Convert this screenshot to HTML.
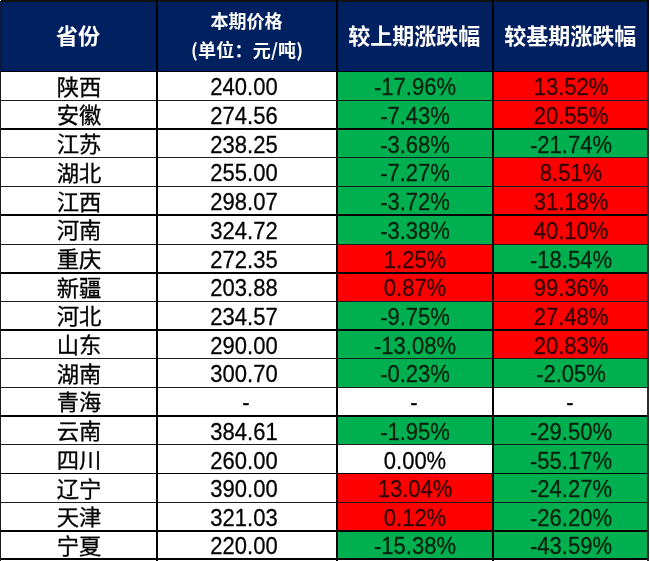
<!DOCTYPE html><html lang="zh-CN"><head><meta charset="utf-8"><title>价格表</title><style>
html,body{margin:0;padding:0;background:#fff;}
body{width:650px;height:561px;overflow:hidden;position:relative;font-family:"Noto Sans CJK SC","Liberation Sans",sans-serif;color:#000;}
.a{position:absolute;}
.hd{background:#002060;}
.g{background:#00b050;}
.r{background:#ff0000;}
.ln{background:#000;}
.t{position:absolute;text-align:center;white-space:nowrap;font-size:22px;line-height:28px;height:28px;transform:scaleY(1.065) rotate(0.02deg);font-family:"Liberation Sans","Noto Sans CJK SC",sans-serif;-webkit-text-stroke:0.25px currentColor;}
.tg{color:#04200c;}
.tr{color:#300000;}
.c{font-family:"Noto Sans CJK SC","Liberation Sans",sans-serif;-webkit-text-stroke:0.3px currentColor;}
.h{position:absolute;text-align:center;white-space:nowrap;color:#fff;font-weight:bold;font-family:"Noto Sans CJK SC","Liberation Sans",sans-serif;}
</style></head><body>
<div class="a hd" style="left:0;top:0;width:649px;height:72px"></div>
<div class="a g" style="left:337px;top:71.40px;width:155.60px;height:29.00px"></div>
<div class="a r" style="left:492.6px;top:71.40px;width:155.20px;height:29.00px"></div>
<div class="a g" style="left:337px;top:100.40px;width:155.60px;height:28.65px"></div>
<div class="a r" style="left:492.6px;top:100.40px;width:155.20px;height:28.65px"></div>
<div class="a g" style="left:337px;top:129.05px;width:155.60px;height:28.55px"></div>
<div class="a g" style="left:492.6px;top:129.05px;width:155.20px;height:28.55px"></div>
<div class="a g" style="left:337px;top:157.60px;width:155.60px;height:28.85px"></div>
<div class="a r" style="left:492.6px;top:157.60px;width:155.20px;height:28.85px"></div>
<div class="a g" style="left:337px;top:186.45px;width:155.60px;height:28.75px"></div>
<div class="a r" style="left:492.6px;top:186.45px;width:155.20px;height:28.75px"></div>
<div class="a g" style="left:337px;top:215.20px;width:155.60px;height:28.85px"></div>
<div class="a r" style="left:492.6px;top:215.20px;width:155.20px;height:28.85px"></div>
<div class="a r" style="left:337px;top:244.05px;width:155.60px;height:28.65px"></div>
<div class="a g" style="left:492.6px;top:244.05px;width:155.20px;height:28.65px"></div>
<div class="a r" style="left:337px;top:272.70px;width:155.60px;height:28.70px"></div>
<div class="a r" style="left:492.6px;top:272.70px;width:155.20px;height:28.70px"></div>
<div class="a g" style="left:337px;top:301.40px;width:155.60px;height:28.55px"></div>
<div class="a r" style="left:492.6px;top:301.40px;width:155.20px;height:28.55px"></div>
<div class="a g" style="left:337px;top:329.95px;width:155.60px;height:28.60px"></div>
<div class="a r" style="left:492.6px;top:329.95px;width:155.20px;height:28.60px"></div>
<div class="a g" style="left:337px;top:358.55px;width:155.60px;height:28.90px"></div>
<div class="a g" style="left:492.6px;top:358.55px;width:155.20px;height:28.90px"></div>
<div class="a g" style="left:337px;top:416.00px;width:155.60px;height:28.75px"></div>
<div class="a g" style="left:492.6px;top:416.00px;width:155.20px;height:28.75px"></div>
<div class="a g" style="left:492.6px;top:444.75px;width:155.20px;height:28.85px"></div>
<div class="a r" style="left:337px;top:473.60px;width:155.60px;height:28.70px"></div>
<div class="a g" style="left:492.6px;top:473.60px;width:155.20px;height:28.70px"></div>
<div class="a r" style="left:337px;top:502.30px;width:155.60px;height:28.60px"></div>
<div class="a g" style="left:492.6px;top:502.30px;width:155.20px;height:28.60px"></div>
<div class="a g" style="left:337px;top:530.90px;width:155.60px;height:28.15px"></div>
<div class="a g" style="left:492.6px;top:530.90px;width:155.20px;height:28.15px"></div>
<div class="a ln" style="left:1px;top:0;width:648px;height:1.6px;background:#111"></div>
<div class="a ln" style="left:0;top:70.5px;width:649px;height:1.8px"></div>
<div class="a ln" style="left:0;top:99.85px;width:649px;height:1.1px;background:#1c1c1c"></div>
<div class="a ln" style="left:0;top:128.30px;width:649px;height:1.5px;background:#000"></div>
<div class="a ln" style="left:0;top:157.10px;width:649px;height:1.0px;background:#1c1c1c"></div>
<div class="a ln" style="left:0;top:185.82px;width:649px;height:1.25px;background:#1c1c1c"></div>
<div class="a ln" style="left:0;top:214.45px;width:649px;height:1.5px;background:#000"></div>
<div class="a ln" style="left:0;top:243.55px;width:649px;height:1.0px;background:#1c1c1c"></div>
<div class="a ln" style="left:0;top:271.70px;width:649px;height:2.0px;background:#000"></div>
<div class="a ln" style="left:0;top:300.90px;width:649px;height:1.0px;background:#1c1c1c"></div>
<div class="a ln" style="left:0;top:329.15px;width:649px;height:1.6px;background:#000"></div>
<div class="a ln" style="left:0;top:358.05px;width:649px;height:1.0px;background:#1c1c1c"></div>
<div class="a ln" style="left:0;top:386.90px;width:649px;height:1.1px;background:#1c1c1c"></div>
<div class="a ln" style="left:0;top:415.25px;width:649px;height:1.5px;background:#000"></div>
<div class="a ln" style="left:0;top:444.25px;width:649px;height:1.0px;background:#1c1c1c"></div>
<div class="a ln" style="left:0;top:472.85px;width:649px;height:1.5px;background:#000"></div>
<div class="a ln" style="left:0;top:501.75px;width:649px;height:1.1px;background:#1c1c1c"></div>
<div class="a ln" style="left:0;top:529.95px;width:649px;height:1.9px;background:#000"></div>
<div class="a ln" style="left:0;top:558.10px;width:649px;height:1.9px;background:#000"></div>
<div class="a" style="left:0;top:560px;width:650px;height:1px;background:#fff"></div>
<div class="a ln" style="left:0;top:1px;width:1.5px;height:71px;background:#0a1a3c"></div>
<div class="a ln" style="left:0;top:72px;width:1.2px;height:489px;background:#1a1a1a"></div>
<div class="a ln" style="left:155.85px;top:0;width:2px;height:561px"></div>
<div class="a ln" style="left:336px;top:0;width:2px;height:561px"></div>
<div class="a ln" style="left:491.6px;top:0;width:2px;height:561px"></div>
<div class="a ln" style="left:647.1px;top:72px;width:1.5px;height:489px;background:#2e2e2e"></div>
<div class="a ln" style="left:647.4px;top:0;width:1.3px;height:72px;background:#030818"></div>
<div class="a" style="left:648.7px;top:0;width:1.3px;height:561px;background:#fff"></div>
<div class="a" style="left:0;top:0;width:1.2px;height:1.2px;background:#fff"></div>
<div class="h" style="left:-72.0px;width:300px;top:18.80px;font-size:22px;line-height:30px;height:30px">省份</div>
<div class="h" style="left:96.5px;width:300px;top:6.50px;font-size:18px;line-height:26px;height:26px">本期价格</div>
<div class="h" style="left:97.2px;width:300px;top:36.20px;font-size:18px;line-height:26px;height:26px;letter-spacing:0.2px">(单位：元/吨)</div>
<div class="h" style="left:264.2px;width:300px;top:18.90px;font-size:22px;line-height:30px;height:30px">较上期涨跌幅</div>
<div class="h" style="left:420.2px;width:300px;top:18.90px;font-size:22px;line-height:30px;height:30px">较基期涨跌幅</div>
<div class="t c" style="left:-70.6px;width:300px;top:70.60px;transform:scale(1.015,0.97) rotate(0.02deg)">陕西</div>
<div class="t" style="left:94.0px;width:300px;top:74.30px">240.00</div>
<div class="t tg" style="left:265.0px;width:300px;top:74.30px">-17.96%</div>
<div class="t tr" style="left:421.3px;width:300px;top:74.30px">13.52%</div>
<div class="t c" style="left:-70.6px;width:300px;top:99.43px;transform:scale(1.015,0.97) rotate(0.02deg)">安徽</div>
<div class="t" style="left:94.0px;width:300px;top:103.13px">274.56</div>
<div class="t tg" style="left:265.0px;width:300px;top:103.13px">-7.43%</div>
<div class="t tr" style="left:421.3px;width:300px;top:103.13px">20.55%</div>
<div class="t c" style="left:-70.6px;width:300px;top:128.02px;transform:scale(1.015,0.97) rotate(0.02deg)">江苏</div>
<div class="t" style="left:94.0px;width:300px;top:131.72px">238.25</div>
<div class="t tg" style="left:265.0px;width:300px;top:131.72px">-3.68%</div>
<div class="t tg" style="left:421.3px;width:300px;top:131.72px">-21.74%</div>
<div class="t c" style="left:-70.6px;width:300px;top:156.72px;transform:scale(1.015,0.97) rotate(0.02deg)">湖北</div>
<div class="t" style="left:94.0px;width:300px;top:160.42px">255.00</div>
<div class="t tg" style="left:265.0px;width:300px;top:160.42px">-7.27%</div>
<div class="t tr" style="left:421.3px;width:300px;top:160.42px">8.51%</div>
<div class="t c" style="left:-70.6px;width:300px;top:185.52px;transform:scale(1.015,0.97) rotate(0.02deg)">江西</div>
<div class="t" style="left:94.0px;width:300px;top:189.22px">298.07</div>
<div class="t tg" style="left:265.0px;width:300px;top:189.22px">-3.72%</div>
<div class="t tr" style="left:421.3px;width:300px;top:189.22px">31.18%</div>
<div class="t c" style="left:-70.6px;width:300px;top:214.32px;transform:scale(1.015,0.97) rotate(0.02deg)">河南</div>
<div class="t" style="left:94.0px;width:300px;top:218.03px">324.72</div>
<div class="t tg" style="left:265.0px;width:300px;top:218.03px">-3.38%</div>
<div class="t tr" style="left:421.3px;width:300px;top:218.03px">40.10%</div>
<div class="t c" style="left:-70.6px;width:300px;top:243.07px;transform:scale(1.015,0.97) rotate(0.02deg)">重庆</div>
<div class="t" style="left:94.0px;width:300px;top:246.78px">272.35</div>
<div class="t tr" style="left:265.0px;width:300px;top:246.78px">1.25%</div>
<div class="t tg" style="left:421.3px;width:300px;top:246.78px">-18.54%</div>
<div class="t c" style="left:-70.6px;width:300px;top:271.75px;transform:scale(1.015,0.97) rotate(0.02deg)">新疆</div>
<div class="t" style="left:94.0px;width:300px;top:275.45px">203.88</div>
<div class="t tr" style="left:265.0px;width:300px;top:275.45px">0.87%</div>
<div class="t tr" style="left:421.3px;width:300px;top:275.45px">99.36%</div>
<div class="t c" style="left:-70.6px;width:300px;top:300.37px;transform:scale(1.015,0.97) rotate(0.02deg)">河北</div>
<div class="t" style="left:94.0px;width:300px;top:304.07px">234.57</div>
<div class="t tg" style="left:265.0px;width:300px;top:304.07px">-9.75%</div>
<div class="t tr" style="left:421.3px;width:300px;top:304.07px">27.48%</div>
<div class="t c" style="left:-70.6px;width:300px;top:328.95px;transform:scale(1.015,0.97) rotate(0.02deg)">山东</div>
<div class="t" style="left:94.0px;width:300px;top:332.65px">290.00</div>
<div class="t tg" style="left:265.0px;width:300px;top:332.65px">-13.08%</div>
<div class="t tr" style="left:421.3px;width:300px;top:332.65px">20.83%</div>
<div class="t c" style="left:-70.6px;width:300px;top:357.70px;transform:scale(1.015,0.97) rotate(0.02deg)">湖南</div>
<div class="t" style="left:94.0px;width:300px;top:361.40px">300.70</div>
<div class="t tg" style="left:265.0px;width:300px;top:361.40px">-0.23%</div>
<div class="t tg" style="left:421.3px;width:300px;top:361.40px">-2.05%</div>
<div class="t c" style="left:-70.6px;width:300px;top:386.43px;transform:scale(1.015,0.97) rotate(0.02deg)">青海</div>
<div class="t" style="left:96.1px;width:300px;top:388.82px">-</div>
<div class="t" style="left:264.3px;width:300px;top:388.82px">-</div>
<div class="t" style="left:420.0px;width:300px;top:388.82px">-</div>
<div class="t c" style="left:-70.6px;width:300px;top:415.07px;transform:scale(1.015,0.97) rotate(0.02deg)">云南</div>
<div class="t" style="left:94.0px;width:300px;top:418.77px">384.61</div>
<div class="t tg" style="left:265.0px;width:300px;top:418.77px">-1.95%</div>
<div class="t tg" style="left:421.3px;width:300px;top:418.77px">-29.50%</div>
<div class="t c" style="left:-70.6px;width:300px;top:443.88px;transform:scale(1.015,0.97) rotate(0.02deg)">四川</div>
<div class="t" style="left:94.0px;width:300px;top:447.57px">260.00</div>
<div class="t" style="left:265.0px;width:300px;top:447.57px">0.00%</div>
<div class="t tg" style="left:421.3px;width:300px;top:447.57px">-55.17%</div>
<div class="t c" style="left:-70.6px;width:300px;top:472.65px;transform:scale(1.015,0.97) rotate(0.02deg)">辽宁</div>
<div class="t" style="left:94.0px;width:300px;top:476.35px">390.00</div>
<div class="t tr" style="left:265.0px;width:300px;top:476.35px">13.04%</div>
<div class="t tg" style="left:421.3px;width:300px;top:476.35px">-24.27%</div>
<div class="t c" style="left:-70.6px;width:300px;top:501.30px;transform:scale(1.015,0.97) rotate(0.02deg)">天津</div>
<div class="t" style="left:94.0px;width:300px;top:505.00px">321.03</div>
<div class="t tr" style="left:265.0px;width:300px;top:505.00px">0.12%</div>
<div class="t tg" style="left:421.3px;width:300px;top:505.00px">-26.20%</div>
<div class="t c" style="left:-70.6px;width:300px;top:529.67px;transform:scale(1.015,0.97) rotate(0.02deg)">宁夏</div>
<div class="t" style="left:94.0px;width:300px;top:533.37px">220.00</div>
<div class="t tg" style="left:265.0px;width:300px;top:533.37px">-15.38%</div>
<div class="t tg" style="left:421.3px;width:300px;top:533.37px">-43.59%</div>
</body></html>
